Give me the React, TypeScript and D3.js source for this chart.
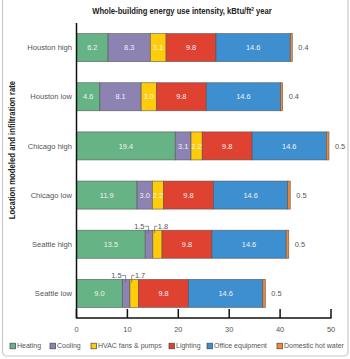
import React from "react";
import * as d3 from "d3";

// chart data
const categories = ["Houston high", "Houston low", "Chicago high", "Chicago low", "Seattle high", "Seattle low"];
const seriesNames = ["Heating", "Cooling", "HVAC fans & pumps", "Lighting", "Office equipment", "Domestic hot water"];
const seriesColors = ["#66b386", "#8d83b3", "#fecc0a", "#e04232", "#3d8fd0", "#f08a3a"];
const heating = [6.2, 4.6, 19.4, 11.9, 13.5, 9.0];
const cooling = [8.3, 8.1, 3.1, 3.0, 1.5, 1.5];
const hvac = [3.1, 3.0, 2.2, 2.2, 1.8, 1.7];
const lighting = [9.8, 9.8, 9.8, 9.8, 9.8, 9.8];
const office = [14.6, 14.6, 14.6, 14.6, 14.6, 14.6];
const hotWater = [0.4, 0.4, 0.5, 0.5, 0.5, 0.5];
const xTicks = [0, 10, 20, 30, 40, 50];
// rows where cooling + hvac labels are pulled out above the bar
const calloutRows = ["Seattle high", "Seattle low"];

const FONT = "'Liberation Sans', Arial, sans-serif";

const width = 350;
const height = 359;

export default function App() {
  const x = d3.scaleLinear().domain([0, 50]).range([76.5, 331]);
  const y = d3
    .scaleBand()
    .domain(categories)
    .range([23, 318])
    .paddingInner(0.43)
    .paddingOuter(0.215);

  // stack the series per row
  const table = categories.map((c, i) => ({
    cat: c,
    values: [heating[i], cooling[i], hvac[i], lighting[i], office[i], hotWater[i]],
  }));
  const rows = table.map((r) => {
    let acc = 0;
    const segs = r.values.map((v, k) => {
      const s = { k, v, x0: acc, x1: acc + v };
      acc += v;
      return s;
    });
    return { cat: r.cat, segs, total: acc };
  });

  const bw = y.bandwidth();
  const legendX = [10, 50, 91, 169, 207, 277];

  return (
    <svg
      width={width}
      height={height}
      style={{ position: "absolute", left: 0, top: 0, background: "#fff" }}
      fontFamily={FONT}
    >
      <rect x={2.5} y={-4} width={345.5} height={360} rx={4} fill="none" stroke="#c9c9c9" strokeWidth={1.2} />

      <g transform="translate(182,14) scale(0.87,1)">
        <text x={0} y={0} textAnchor="middle" fontSize={8.8} fontWeight="bold" fill="#222">
          Whole-building energy use intensity, kBtu/ft
          <tspan fontSize={5.5} dy={-3}>2</tspan>
          <tspan dy={3}> year</tspan>
        </text>
      </g>

      <g transform="translate(15,150) rotate(-90) scale(0.9,1)">
        <text x={0} y={0} textAnchor="middle" fontSize={8.6} fontWeight="bold" fill="#222">
          Location modeled and infiltration rate
        </text>
      </g>

      {rows.map((r) => {
        const y0 = y(r.cat)!;
        const cy = y0 + bw / 2;
        const callout = calloutRows.includes(r.cat);
        return (
          <g key={r.cat}>
            <text x={72} y={cy} dy="0.35em" textAnchor="end" fontSize={7.6} fill="#555">
              {r.cat}
            </text>
            {r.segs.map((s) => (
              <rect
                key={s.k}
                x={x(s.x0)}
                y={y0}
                width={x(s.x1) - x(s.x0)}
                height={bw}
                fill={seriesColors[s.k]}
                stroke="#505050"
                strokeWidth={0.7}
                strokeOpacity={0.8}
              />
            ))}
            {r.segs.map((s) => {
              if (s.k === 5) return null;
              if (callout && (s.k === 1 || s.k === 2)) return null;
              return (
                <text
                  key={"l" + s.k}
                  x={(x(s.x0) + x(s.x1)) / 2}
                  y={cy}
                  dy="0.35em"
                  textAnchor="middle"
                  fontSize={7.4}
                  fill="#f2f2f2"
                >
                  {s.v.toFixed(1)}
                </text>
              );
            })}
            <text x={x(r.total) + 6} y={cy} dy="0.35em" fontSize={7.4} fill="#555">
              {r.segs[5].v.toFixed(1)}
            </text>
            {callout && (
              <g stroke="#666" strokeWidth={0.7} fill="none">
                <path
                  d={`M${x(r.segs[1].x0) - 0.5},${y0 - 4}H${(x(r.segs[1].x0) + x(r.segs[1].x1)) / 2 - 0.5}V${y0 + 3}`}
                />
                <path
                  d={`M${x(r.segs[2].x0) + 1.8},${y0 + 3}V${y0 - 4}H${x(r.segs[2].x0) + 4.5}`}
                />
              </g>
            )}
            {callout && (
              <g fontSize={7.4} fill="#555">
                <text x={x(r.segs[1].x0) - 0.8} y={y0 - 4} dy="0.35em" textAnchor="end">
                  {r.segs[1].v.toFixed(1)}
                </text>
                <text x={x(r.segs[2].x0) + 5} y={y0 - 4} dy="0.35em">
                  {r.segs[2].v.toFixed(1)}
                </text>
              </g>
            )}
          </g>
        );
      })}

      {/* axes */}
      <line x1={76.5} x2={76.5} y1={23} y2={318.5} stroke="#111" strokeWidth={1.5} />
      <line x1={76.5} x2={331.5} y1={318} y2={318} stroke="#111" strokeWidth={1.5} />
      {xTicks.map((t) => (
        <g key={t}>
          <line x1={x(t)} x2={x(t)} y1={318} y2={309} stroke="#111" strokeWidth={1.5} />
          <text x={x(t)} y={329} dy="0.35em" textAnchor="middle" fontSize={7.4} fill="#555">
            {t}
          </text>
        </g>
      ))}

      {/* legend */}
      {seriesNames.map((n, i) => (
        <g key={n} transform={`translate(${legendX[i]},346)`}>
          <rect x={0} y={-2.8} width={5.6} height={5.6} fill={seriesColors[i]} stroke="#444" strokeWidth={0.7} />
          <text x={7} y={0} dy="0.35em" fontSize={7} fill="#555">
            {n}
          </text>
        </g>
      ))}
    </svg>
  );
}
